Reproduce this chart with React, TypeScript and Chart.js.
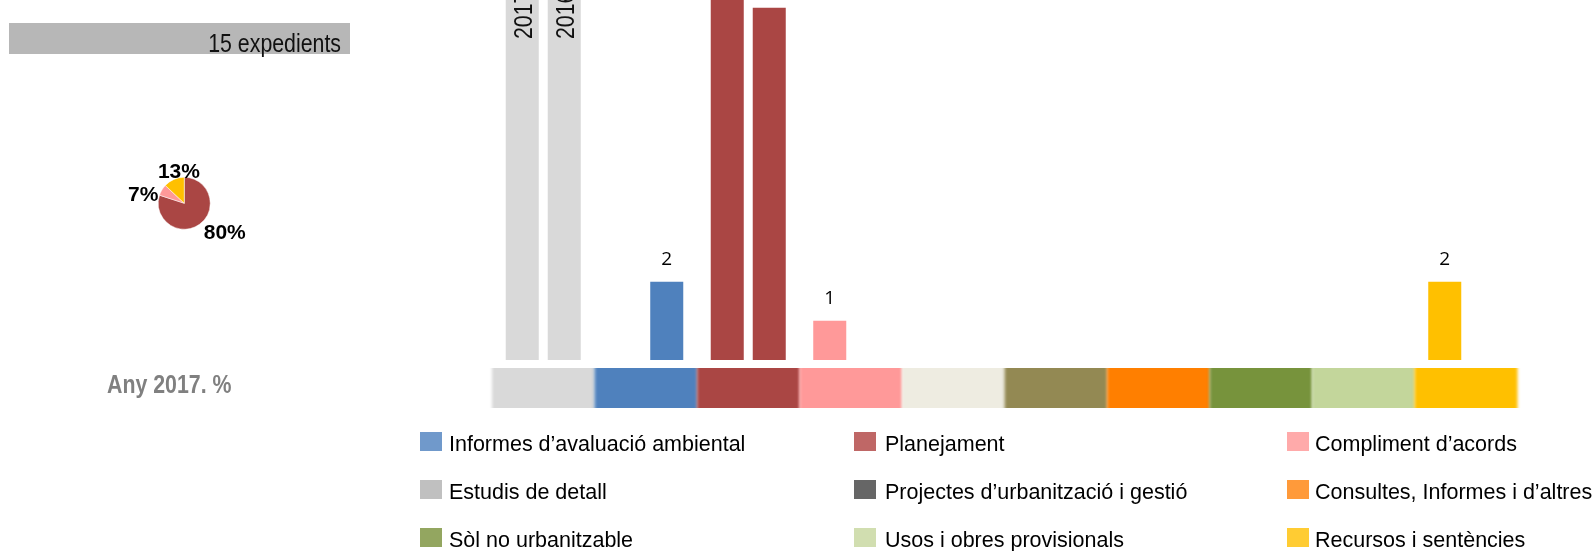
import React, { useEffect, useRef } from "react";
import { Chart, registerables } from "chart.js";

Chart.register(...registerables);

// ---------- DATA ----------
const categories = [
  "Estudis de detall",
  "Informes d’avaluació ambiental",
  "Planejament",
  "Compliment d’acords",
  "Projectes d’urbanització i gestió",
  "Altres",
  "Consultes, Informes i d’altres",
  "Sòl no urbanitzable",
  "Usos i obres provisionals",
  "Recursos i sentències",
];
const categoryColors = [
  "#d9d9d9",
  "#4f81bd",
  "#aa4644",
  "#ff9999",
  "#eeece1",
  "#938953",
  "#ff7f00",
  "#77933c",
  "#c3d69b",
  "#ffc000",
];
const seriesNames = ["2017", "2016"];
const series2017: (number | null)[] = [15, null, 12, 1, null, null, null, null, null, 2];
const series2016: (number | null)[] = [11, 2, 9, null, null, null, null, null, null, null];

const pieCategories = ["Planejament", "Compliment d’acords", "Recursos i sentències"];
const pieValues = [80, 7, 13];
const pieColors = ["#aa4644", "#ff9999", "#ffc000"];

const legendLabels = [
  "Informes d’avaluació ambiental",
  "Planejament",
  "Compliment d’acords",
  "Estudis de detall",
  "Projectes d’urbanització i gestió",
  "Consultes, Informes i d’altres",
  "Sòl no urbanitzable",
  "Usos i obres provisionals",
  "Recursos i sentències",
];
const legendColors = [
  "#7099cb",
  "#bf6766",
  "#ffaaaa",
  "#c0c0c0",
  "#666666",
  "#ff9a3a",
  "#93a660",
  "#d1deb0",
  "#ffcc33",
];

const totalLabel = "15 expedients";
const yearLabel = "Any 2017. %";

// ---------- STYLE ----------
const SANS = '"Liberation Sans", Arial, sans-serif';
const NARROW_SCALE = 0.82;

const stripPlugin = {
  id: "stripAndLabels",
  beforeDatasetsDraw(chart: any) {
    const { ctx, chartArea, scales } = chart;
    const x = scales.x;
    const half = (x.getPixelForValue(1) - x.getPixelForValue(0)) / 2;
    const top = chartArea.bottom + 8;
    const h = 40;
    ctx.save();
    ctx.beginPath();
    ctx.rect(0, top, chart.width, h);
    ctx.clip();
    ctx.filter = "blur(1.5px)";
    categories.forEach((_, i) => {
      const cx = x.getPixelForValue(i);
      ctx.fillStyle = categoryColors[i];
      ctx.fillRect(cx - half, top - 12, half * 2 + 0.5, h + 24);
    });
    ctx.restore();
  },
  afterDatasetsDraw(chart: any) {
    const { ctx, chartArea } = chart;
    ctx.save();
    chart.data.datasets.forEach((ds: any, di: number) => {
      const meta = chart.getDatasetMeta(di);
      meta.data.forEach((bar: any, i: number) => {
        const v = ds.data[i];
        if (v == null) return;
        if (i === 0) {
          ctx.save();
          ctx.font = `26px ${SANS}`;
          ctx.fillStyle = "#111";
          ctx.textAlign = "left";
          ctx.textBaseline = "alphabetic";
          ctx.translate(bar.x, chartArea.top + 39);
          ctx.rotate(-Math.PI / 2);
          ctx.scale(NARROW_SCALE, 1);
          ctx.fillText(ds.label, 0, 9.3);
          ctx.restore();
        } else {
          ctx.font = `19px "Open Sans", ${SANS}`;
          ctx.fillStyle = "#000";
          ctx.textAlign = "center";
          ctx.textBaseline = "alphabetic";
          ctx.fillText(String(v), bar.x, bar.y - 17);
        }
      });
    });
    ctx.restore();
  },
};

// label offsets relative to the pie centre, in slice order
const pieLabelOffsets = [
  [40.5, 28.7],
  [-41, -10],
  [-5.3, -32.3],
];

const pieLabelPlugin = {
  id: "pieLabels",
  afterDatasetsDraw(chart: any) {
    const { ctx } = chart;
    const meta = chart.getDatasetMeta(0);
    ctx.save();
    ctx.font = `bold 21px ${SANS}`;
    ctx.fillStyle = "#000";
    ctx.textAlign = "center";
    ctx.textBaseline = "alphabetic";
    meta.data.forEach((arc: any, i: number) => {
      const [dx, dy] = pieLabelOffsets[i];
      ctx.fillText(`${pieValues[i]}%`, arc.x + dx, arc.y + dy + 7.4);
    });
    ctx.restore();
  },
};

export default function App() {
  const barRef = useRef<HTMLCanvasElement>(null);
  const pieRef = useRef<HTMLCanvasElement>(null);

  useEffect(() => {
    document.body.style.margin = "0";
    const bar = new Chart(barRef.current as HTMLCanvasElement, {
      type: "bar",
      data: {
        labels: categories,
        datasets: [
          {
            label: seriesNames[0],
            data: series2017,
            backgroundColor: categoryColors,
            borderWidth: 0,
            categoryPercentage: 0.8195,
            barPercentage: 0.786,
          },
          {
            label: seriesNames[1],
            data: series2016,
            backgroundColor: categoryColors,
            borderWidth: 0,
            categoryPercentage: 0.8195,
            barPercentage: 0.786,
          },
        ],
      },
      options: {
        responsive: false,
        animation: false,
        events: [],
        layout: { padding: { left: 492, right: 76, top: 0, bottom: 191 } },
        scales: {
          x: { display: false },
          y: { display: false, min: 0, max: 9.2 },
        },
        plugins: { legend: { display: false }, tooltip: { enabled: false } },
      },
      plugins: [stripPlugin],
    } as any);

    const pie = new Chart(pieRef.current as HTMLCanvasElement, {
      type: "pie",
      data: {
        labels: pieCategories,
        datasets: [
          {
            data: pieValues,
            backgroundColor: pieColors,
            borderColor: "#ffffff",
            borderWidth: 0.5,
          },
        ],
      },
      options: {
        responsive: false,
        animation: false,
        events: [],
        layout: { padding: { left: 74, right: 73.5, top: 44, bottom: 43.5 } },
        plugins: { legend: { display: false }, tooltip: { enabled: false } },
      },
      plugins: [pieLabelPlugin],
    } as any);

    return () => {
      bar.destroy();
      pie.destroy();
    };
  }, []);

  const colBoxX = [420, 854, 1287];
  const colTextX = [449, 885, 1315];
  const rowBoxY = [432, 480, 528];

  return (
    <div
      style={{
        position: "relative",
        width: 1593,
        height: 551,
        overflow: "hidden",
        background: "#ffffff",
      }}
    >
      <canvas
        ref={barRef}
        width={1593}
        height={551}
        style={{ position: "absolute", left: 0, top: 0, width: 1593, height: 551 }}
      />
      <canvas
        ref={pieRef}
        width={200}
        height={140}
        style={{ position: "absolute", left: 84, top: 133, width: 200, height: 140 }}
      />
      <div
        style={{
          position: "absolute",
          left: 9,
          top: 23,
          width: 341,
          height: 31,
          background: "#b7b7b7",
        }}
      />
      <div
        style={{
          position: "absolute",
          left: 0,
          top: 29.7,
          width: 341,
          textAlign: "right",
          font: `26px/26px ${SANS}`,
          color: "#111",
          whiteSpace: "nowrap",
          transform: `scaleX(${NARROW_SCALE})`,
          transformOrigin: "341px 0",
        }}
      >
        {totalLabel}
      </div>
      <div
        style={{
          position: "absolute",
          left: 107,
          top: 371.3,
          font: `bold 26px/26px ${SANS}`,
          color: "#808080",
          whiteSpace: "nowrap",
          transform: `scaleX(${NARROW_SCALE})`,
          transformOrigin: "0 0",
        }}
      >
        {yearLabel}
      </div>
      {legendLabels.map((lab, k) => {
        const col = k % 3;
        const row = Math.floor(k / 3);
        return (
          <React.Fragment key={lab}>
            <div
              style={{
                position: "absolute",
                left: colBoxX[col],
                top: rowBoxY[row],
                width: 22,
                height: 19,
                background: legendColors[k],
              }}
            />
            <div
              style={{
                position: "absolute",
                left: colTextX[col],
                top: rowBoxY[row],
                height: 24,
                font: `21.5px/24px ${SANS}`,
                color: "#000",
                whiteSpace: "nowrap",
              }}
            >
              {lab}
            </div>
          </React.Fragment>
        );
      })}
    </div>
  );
}
